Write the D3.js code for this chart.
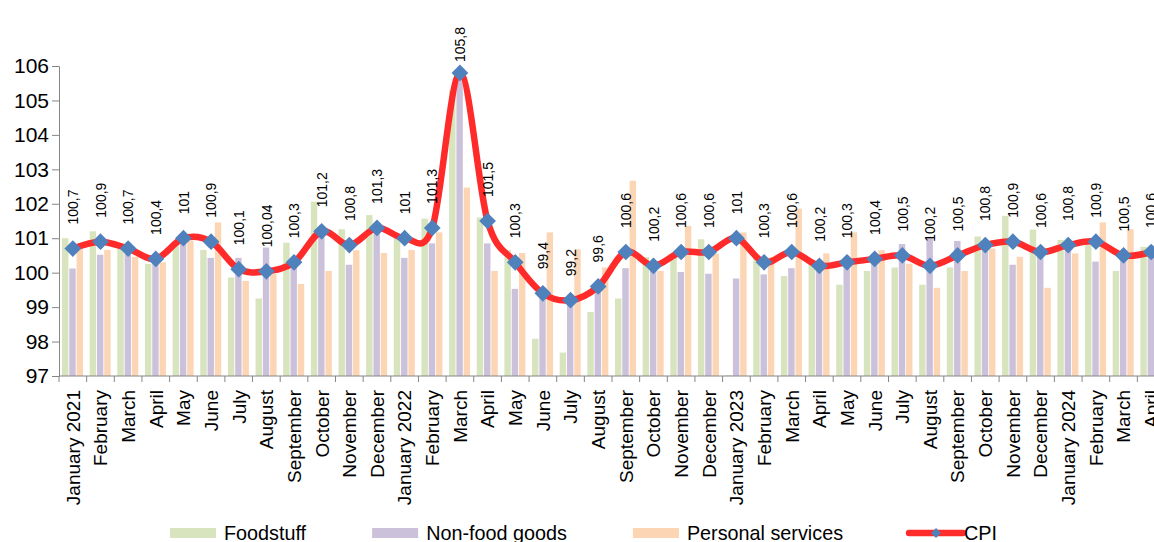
<!DOCTYPE html>
<html>
<head>
  <meta charset="utf-8">
  <script src="https://d3js.org/d3.v7.min.js"></script>
  <style>
    body { margin: 0; background: #fff; }
    svg { font-family: Arial, "Liberation Sans", sans-serif; }
  </style>
</head>
<body>
<script>
// categories
var months = ["January 2021", "February", "March", "April", "May", "June", "July", "August",
  "September", "October", "November", "December", "January 2022", "February", "March", "April",
  "May", "June", "July", "August", "September", "October", "November", "December",
  "January 2023", "February", "March", "April", "May", "June", "July", "August",
  "September", "October", "November", "December", "January 2024", "February", "March", "April"];

// series (previous month = 100)
var foodstuff = [101.0, 101.2, 100.7, 100.25, 100.9, 100.66, 99.86, 99.25, 100.87, 102.06,
  101.26, 101.67, 101.02, 101.57, 105.3, 101.6, 100.66, 98.08, 97.68, 98.86,
  99.25, 100.45, 100.44, 100.97, 97.02, 100.44, 99.9, 100.34, 99.65, 100.05,
  100.15, 99.65, 100.15, 101.05, 101.65, 101.25, 100.95, 100.8, 100.05, 100.75];
var nonFood = [100.12, 100.52, 100.6, 100.35, 100.85, 100.43, 100.43, 100.73, 100.25, 101.1,
  100.23, 101.15, 100.43, 100.85, 105.7, 100.85, 99.53, 99.4, 99.15, 99.45,
  100.13, 100.1, 100.02, 99.97, 99.83, 99.95, 100.13, 100.1, 100.25, 100.35,
  100.83, 101.04, 100.92, 100.7, 100.23, 100.5, 100.75, 100.32, 100.45, 100.55];
var services = [100.69, 100.66, 100.46, 100.3, 100.93, 101.46, 99.76, 99.96, 99.67, 100.05,
  100.65, 100.57, 100.66, 101.17, 102.47, 100.05, 100.57, 101.17, 100.68, 100.15,
  102.67, 100.05, 101.36, 100.55, 101.17, 100.44, 101.86, 100.56, 101.17, 100.65,
  100.26, 99.56, 100.05, 100.7, 100.46, 99.56, 100.56, 101.46, 101.26, 100.6];
var cpi = [100.7, 100.9, 100.7, 100.4, 101, 100.9, 100.1, 100.04, 100.3, 101.2,
  100.8, 101.3, 101, 101.3, 105.8, 101.5, 100.3, 99.4, 99.2, 99.6,
  100.6, 100.2, 100.6, 100.6, 101, 100.3, 100.6, 100.2, 100.3, 100.4,
  100.5, 100.2, 100.5, 100.8, 100.9, 100.6, 100.8, 100.9, 100.5, 100.6];

var yTicks = [97, 98, 99, 100, 101, 102, 103, 104, 105, 106];
var barNames = ["Foodstuff", "Non-food goods", "Personal services"];
var barColors = ["#d7e4bd", "#ccc1da", "#fcd5b5"];

var width = 1154, height = 542;
var plotL = 59, plotR = 1165, plotT = 66, plotB = 376;

var svg = d3.select("body").append("svg")
    .attr("width", width)
    .attr("height", height);

var x = d3.scaleBand().domain(d3.range(months.length)).range([plotL, plotR]);
var xSub = d3.scaleBand().domain([0, 1, 2]).range([3, 24]).paddingInner(0.12);
var y = d3.scaleLinear().domain([97, 106]).range([plotB, plotT]);

// bars
var series = [foodstuff, nonFood, services];
series.forEach(function (vals, s) {
  svg.append("g").selectAll("rect")
      .data(vals)
      .enter().append("rect")
      .attr("x", function (d, i) { return x(i) + xSub(s); })
      .attr("width", xSub.bandwidth())
      .attr("y", function (d) { return y(d); })
      .attr("height", function (d) { return y(97) - y(d); })
      .style("fill", barColors[s]);
});

// axes
var yAxis = svg.append("g")
    .attr("transform", "translate(" + plotL + ",0)")
    .call(d3.axisLeft(y).tickValues(yTicks).tickSize(7).tickPadding(3).tickFormat(d3.format("d")));
yAxis.select(".domain").attr("stroke", "#868686");
yAxis.selectAll(".tick line").attr("stroke", "#868686");
yAxis.selectAll("text").style("font-size", "21px").attr("fill", "#000");

svg.append("line")
    .attr("x1", plotL).attr("x2", plotR)
    .attr("y1", plotB).attr("y2", plotB)
    .attr("stroke", "#868686");

svg.append("g").selectAll("line")
    .data(d3.range(months.length + 1))
    .enter().append("line")
    .attr("x1", function (i) { return plotL + i * x.step(); })
    .attr("x2", function (i) { return plotL + i * x.step(); })
    .attr("y1", plotB).attr("y2", plotB + 6)
    .attr("stroke", "#868686");

svg.append("g").selectAll("text")
    .data(months)
    .enter().append("text")
    .attr("transform", function (d, i) {
      return "translate(" + (x(i) + x.bandwidth() / 2) + "," + (plotB + 14) + ") rotate(-90)";
    })
    .attr("dy", "0.36em")
    .attr("text-anchor", "end")
    .style("font-size", "19px")
    .text(function (d) { return d; });

// CPI line
var line = d3.line()
    .x(function (d, i) { return x(i) + x.bandwidth() / 2; })
    .y(function (d) { return y(d); })
    .curve(d3.curveCardinal.tension(0));

svg.append("path")
    .datum(cpi)
    .attr("d", line)
    .attr("fill", "none")
    .attr("stroke", "#ff2b2b")
    .attr("stroke-width", 6.5)
    .attr("stroke-linejoin", "round");

var diamond = d3.symbol().type(d3.symbolSquare).size(140);
svg.append("g").selectAll("path")
    .data(cpi)
    .enter().append("path")
    .attr("d", diamond)
    .attr("transform", function (d, i) {
      return "translate(" + (x(i) + x.bandwidth() / 2) + "," + y(d) + ") rotate(45)";
    })
    .attr("fill", "#4f81bd");

// data labels
svg.append("g").selectAll("text")
    .data(cpi)
    .enter().append("text")
    .attr("transform", function (d, i) {
      var yy = Math.max(y(d) - 24, 62);
      return "translate(" + (x(i) + x.bandwidth() / 2) + "," + yy + ") rotate(-90)";
    })
    .attr("dy", "0.37em")
    .style("font-size", "14px")
    .text(function (d) { return String(d).replace(".", ","); });

// legend
var legend = svg.append("g");
var lx = 170, ly = 533;
barNames.concat(["CPI"]).forEach(function (name, k) {
  var g = legend.append("g").attr("transform", "translate(" + lx + "," + ly + ")");
  if (k < 3) {
    g.append("rect").attr("x", 0).attr("y", -5).attr("width", 46).attr("height", 10)
        .style("fill", barColors[k]);
  } else {
    g.append("line").attr("x1", 0).attr("x2", 54).attr("y1", 0).attr("y2", 0)
        .attr("stroke", "#ff2b2b").attr("stroke-width", 6.5).attr("stroke-linecap", "round");
    g.append("path").attr("d", d3.symbol().type(d3.symbolSquare).size(50))
        .attr("transform", "translate(27,0) rotate(45)").attr("fill", "#4f81bd");
  }
  var t = g.append("text")
      .attr("x", k < 3 ? 54 : 55)
      .attr("y", 6.5)
      .style("font-size", "19.8px")
      .text(name);
  lx += (k < 3 ? 54 : 55) + t.node().getComputedTextLength() + 66;
});
</script>
</body>
</html>
